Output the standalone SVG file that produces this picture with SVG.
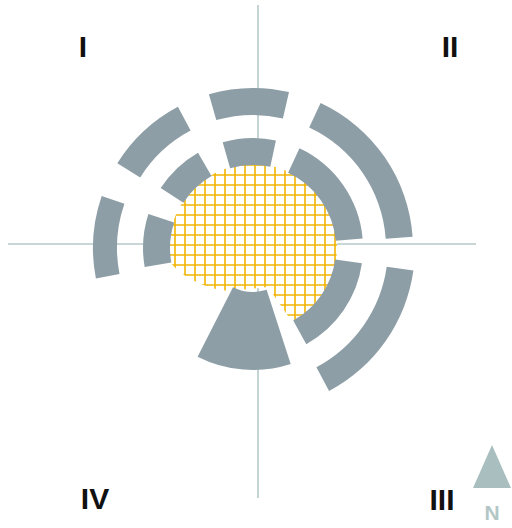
<svg xmlns="http://www.w3.org/2000/svg" width="512" height="528" viewBox="0 0 512 528">
  <style>
    .axis { stroke: #B6C9C9; stroke-width: 1.6; fill: none; }
    .seg { fill: #8D9EA6; }
    .quad { font-family: "Liberation Sans", Arial, sans-serif; font-weight: bold; font-size: 30px; fill: #111111; }
    .north { font-family: "Liberation Sans", Arial, sans-serif; font-weight: bold; font-size: 21px; fill: #B3C6C6; }
  </style>
  <defs>
    <pattern id="grid" patternUnits="userSpaceOnUse" width="10" height="10">
      <rect width="10" height="10" fill="#FFFFFF"/>
      <path d="M0,5 H10 M5,0 V10" stroke="#F2B400" stroke-width="1.6"/>
    </pattern>
  </defs>
  <rect width="512" height="528" fill="#FFFFFF"/>

  <g id="axes">
    <line class="axis" x1="258" y1="5" x2="258" y2="498"/>
    <line class="axis" x1="8" y1="244" x2="476" y2="244"/>
  </g>

  <g id="core">
    <path fill="url(#grid)" d="M292.4,322.2 A84,84 0 1 0 170.3,262.6 C180,275 205,290 230,291 L268,287 Z"/>
  </g>

  <g id="outer-ring">
    <path class="seg" d="M208.9,94.2 A160,160 0 0 1 289.0,92.1 L282.9,118.4 A133,133 0 0 0 216.3,120.1 Z"/>
    <path class="seg" d="M117.3,163.2 A160,160 0 0 1 177.9,106.7 L190.6,130.6 A133,133 0 0 0 140.2,177.5 Z"/>
    <path class="seg" d="M95.9,278.5 A160,160 0 0 1 101.7,195.9 L124.4,203.7 A136,136 0 0 0 119.5,273.9 Z"/>
    <path class="seg" d="M320.6,103.0 A160,160 0 0 1 412.6,236.8 L385.7,238.7 A133,133 0 0 0 309.2,127.5 Z"/>
    <path class="seg" d="M413.4,270.6 A162,162 0 0 1 329.1,391.0 L316.4,367.2 A135,135 0 0 0 386.7,266.8 Z"/>
  </g>

  <g id="middle-ring">
    <path class="seg" d="M222.7,142.3 A110,110 0 0 1 275.9,140.4 L270.3,166.8 A83,83 0 0 0 230.1,168.2 Z"/>
    <path class="seg" d="M160.7,188.1 A110,110 0 0 1 198,152.7 L211.5,176.1 A83,83 0 0 0 183.4,202.8 Z"/>
    <path class="seg" d="M144.7,267.1 A110,110 0 0 1 148.4,214 L174.1,222.4 A83,83 0 0 0 171.3,262.4 Z"/>
    <path class="seg" d="M299.5,148.3 A110,110 0 0 1 362.6,238.4 L335.7,240.8 A83,83 0 0 0 288.1,172.8 Z"/>
    <path class="seg" d="M361.9,263.3 A110,110 0 0 1 306.3,344.2 L293.2,320.6 A83,83 0 0 0 335.2,259.6 Z"/>
  </g>

  <g id="wedge">
    <path class="seg" d="M266.6,289.8 L290.7,364 A122,122 0 0 1 197.6,356.7 L233,287.2 A44,44 0 0 0 266.6,289.8 Z"/>
  </g>

  <g id="labels">
    <text class="quad" x="83" y="57" text-anchor="middle">I</text>
    <text class="quad" x="450" y="57" text-anchor="middle">II</text>
    <text class="quad" x="442" y="510" text-anchor="middle">III</text>
    <text class="quad" x="95" y="509" text-anchor="middle">IV</text>
  </g>

  <g id="north-arrow">
    <polygon points="492,445 473,488 511,488" fill="#A9BEBE"/>
    <text class="north" x="492" y="520" text-anchor="middle">N</text>
  </g>
</svg>
